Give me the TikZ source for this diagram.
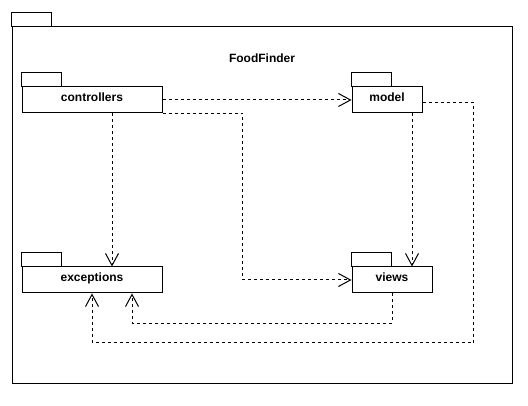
\documentclass[tikz,border=0pt]{standalone}
\usepackage{fontspec}
\setmainfont{Liberation Sans}
\usetikzlibrary{arrows.meta,calc}
\tikzset{
  pkg/.style={draw, line width=1pt, rectangle, inner sep=0pt, minimum height=26pt,
    font=\fontsize{12pt}{14pt}\selectfont\bfseries, text height=8pt, text depth=4pt},
  tab/.style={draw, line width=1pt},
  dep/.style={draw, line width=1pt, dash pattern=on 3pt off 3pt,
    -{Straight Barb[length=12pt,width=13pt,line width=1pt]}},
  title/.style={font=\fontsize{12pt}{14pt}\selectfont\bfseries, text height=8pt, text depth=4pt, inner sep=0pt}
}
\begin{document}
\begin{tikzpicture}[x=1pt,y=-1pt]
\useasboundingbox (0,0) rectangle (528,406);
% outer package
\node[draw, line width=1pt, minimum width=500pt, minimum height=356pt, inner sep=0pt] (frame) at (262,205) {};
\draw[tab] (frame.north west) rectangle ++(40,-14);
\node[title] (ftitle) at (262,61) {FoodFinder};
% packages
\node[pkg, minimum width=140pt] (controllers) at (92,100) {controllers};
\node[pkg, minimum width=70pt] (model) at (387,100) {model};
\node[pkg, minimum width=140pt] (exceptions) at (92,280) {exceptions};
\node[pkg, minimum width=80pt] (views) at (392,280) {views};
\foreach \n in {controllers,model,exceptions,views}
  \draw[tab] (\n.north west) rectangle ++(40,-14);
% dependencies
\draw[dep] (controllers.east) -- (model.west);
\draw[dep] ([xshift=20pt]controllers.south) -- ([xshift=20pt]controllers.south |- exceptions.north);
\draw[dep] (controllers.south east) -- ++(80,0) |- (views.west);
\draw[dep] ([xshift=25pt]model.south) -- ([xshift=25pt]model.south |- views.north);
\draw[dep] ([yshift=-3pt]model.east) -- ++(51,0) -- ++(0,240) -| (exceptions.south);
\draw[dep] (views.south) -- ++(0,30) -| ([xshift=40pt]exceptions.south);
\end{tikzpicture}
\end{document}
